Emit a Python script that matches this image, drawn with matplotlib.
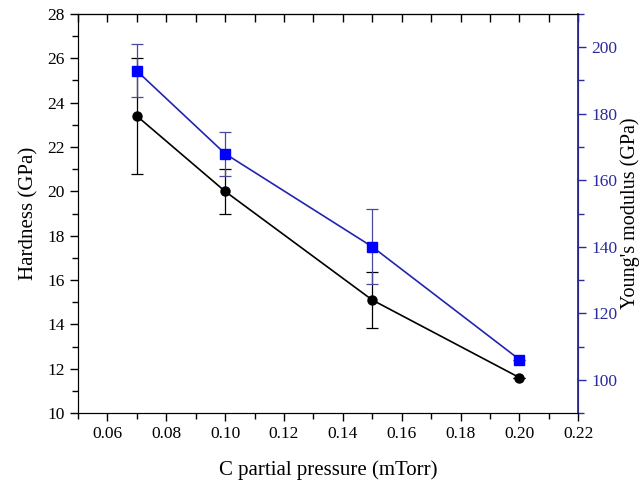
import matplotlib
matplotlib.use("Agg")
import matplotlib.pyplot as plt
from matplotlib.ticker import MultipleLocator, NullFormatter

# data
pressure = [0.07, 0.10, 0.15, 0.20]
hardness = [23.4, 20.0, 15.1, 11.6]
hardness_err = [2.6, 1.0, 1.27, 0.0]
modulus = [192.9, 168.0, 140.0, 106.1]
modulus_err = [8.0, 6.6, 11.3, 0.0]
xticks = [0.06, 0.08, 0.10, 0.12, 0.14, 0.16, 0.18, 0.20, 0.22]
mod_ticks = [100, 120, 140, 160, 180, 200]

blue_axis = "#2b2b9a"

plt.rcParams['font.family'] = ['Liberation Serif', 'DejaVu Serif']

fig = plt.figure(figsize=(6.44, 4.82), dpi=100)
ax = fig.add_axes([0.121, 0.143, 0.777, 0.828])

ax.errorbar(pressure, hardness, yerr=hardness_err, color="black", marker="o",
            markersize=6.5, linewidth=1.2, elinewidth=0.9, capsize=4, capthick=0.9,
            zorder=3)
ax.set_xlim(0.05, 0.22)
ax.set_ylim(10, 28)
ax.set_xticks(xticks)
ax.set_xticklabels(["%.2f" % t for t in xticks])
ax.xaxis.set_minor_locator(MultipleLocator(0.01))
ax.yaxis.set_major_locator(MultipleLocator(2))
ax.yaxis.set_minor_locator(MultipleLocator(1))
ax.tick_params(axis="x", which="major", direction="out", length=6, width=1, labelsize=12.5)
ax.tick_params(axis="x", which="minor", direction="out", length=4, width=1)
ax.tick_params(axis="y", which="major", direction="out", length=6, width=1, labelsize=12.5)
ax.tick_params(axis="y", which="minor", direction="out", length=4, width=1)
ax.set_xlabel("C partial pressure (mTorr)", fontsize=15, labelpad=13)
ax.set_ylabel("Hardness (GPa)", fontsize=15, labelpad=6)

# inward ticks on top, no labels
sec = ax.secondary_xaxis("top")
sec.xaxis.set_major_locator(MultipleLocator(0.01))
sec.xaxis.set_major_formatter(NullFormatter())
sec.tick_params(direction="in", length=6, width=1)

ax2 = ax.twinx()
ax2.errorbar(pressure, modulus, yerr=modulus_err, color="#2323b0", marker="s",
             markersize=6.5, markerfacecolor="#0000ff", markeredgecolor="#0000ff",
             linewidth=1.2, elinewidth=0.9, ecolor="#4a4a9a", capsize=4, capthick=0.9,
             zorder=3)
ax2.set_ylim(90, 210)
ax2.set_yticks(mod_ticks)
ax2.yaxis.set_minor_locator(MultipleLocator(10))
ax2.tick_params(axis="y", which="major", direction="out", length=6, width=1,
                colors=blue_axis, labelsize=12.5)
ax2.tick_params(axis="y", which="minor", direction="out", length=4, width=1,
                colors=blue_axis)
ax2.spines["right"].set_color(blue_axis)
ax2.spines["right"].set_linewidth(1.3)
ax2.set_ylabel("Young's modulus (GPa)", fontsize=14.5, labelpad=2)

fig.savefig("out.png", dpi=100)
